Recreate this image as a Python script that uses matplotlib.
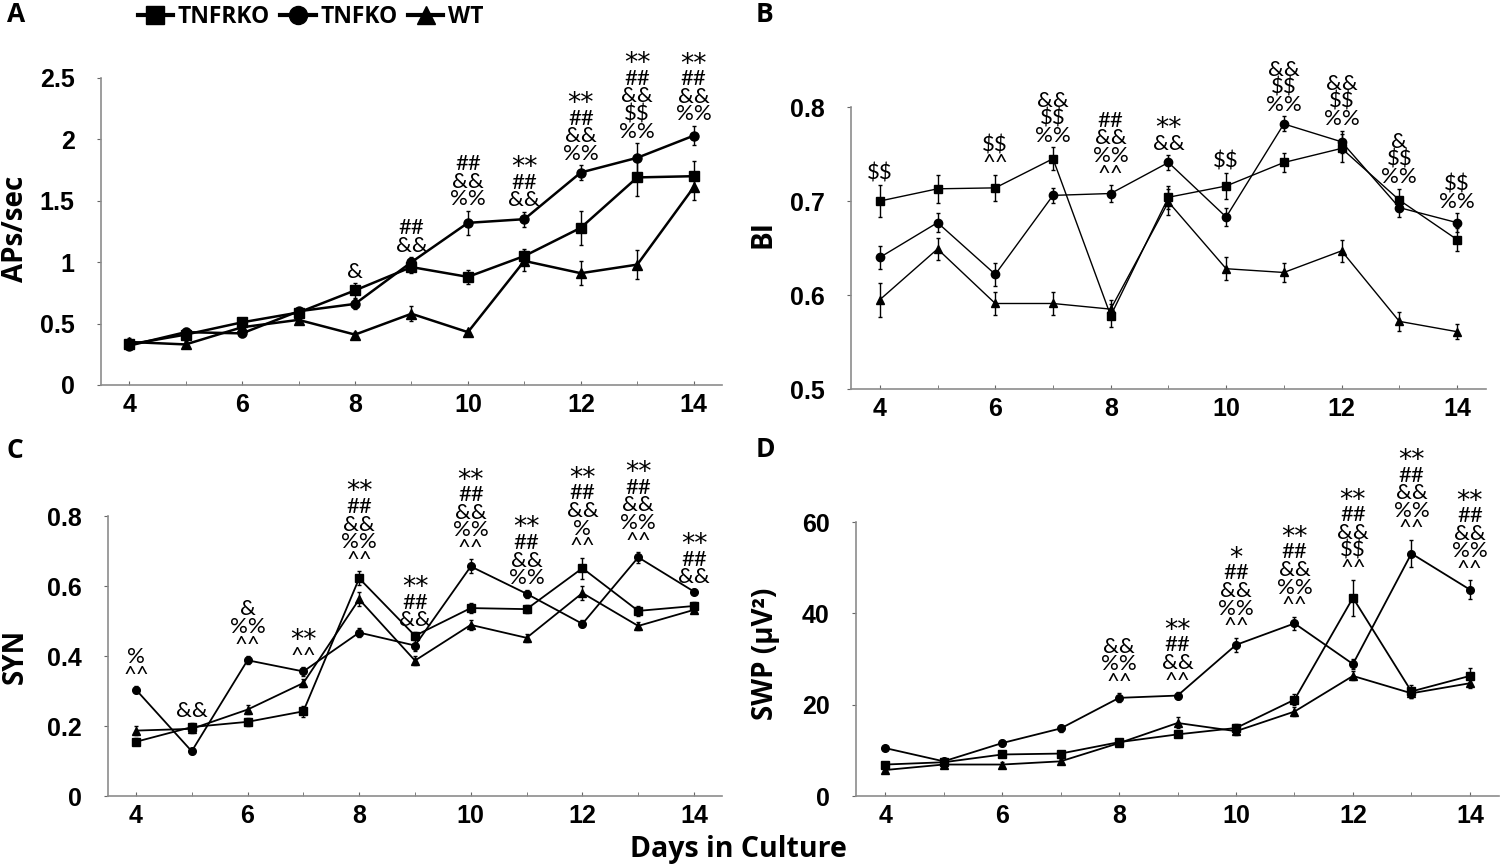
import matplotlib
matplotlib.use("Agg")
import matplotlib.pyplot as plt
from matplotlib.lines import Line2D
from matplotlib.ticker import MultipleLocator, FormatStrFormatter

plt.rcParams['font.family'] = ['Liberation Sans', 'DejaVu Sans']

days = [4, 5, 6, 7, 8, 9, 10, 11, 12, 13, 14]
groups = ['TNFRKO', 'TNFKO', 'WT']

# A - APs/sec
rko_A = [0.33, 0.41, 0.51, 0.59, 0.77, 0.96, 0.88, 1.05, 1.28, 1.69, 1.70]
ko_A = [0.32, 0.43, 0.42, 0.60, 0.66, 1.00, 1.32, 1.35, 1.73, 1.85, 2.03]
wt_A = [0.35, 0.33, 0.47, 0.53, 0.41, 0.58, 0.43, 1.01, 0.91, 0.98, 1.61]
err_rko_A = [0.03, 0.03, 0.03, 0.03, 0.06, 0.05, 0.06, 0.06, 0.14, 0.15, 0.12]
err_ko_A = [0.03, 0.03, 0.03, 0.03, 0.04, 0.04, 0.10, 0.06, 0.06, 0.12, 0.08]
err_wt_A = [0.03, 0.03, 0.03, 0.03, 0.02, 0.06, 0.02, 0.08, 0.10, 0.12, 0.10]
ann_A = ['', '', '', '', '&', '##\n&&', '##\n&&\n%%', '**\n##\n&&',
         '**\n##\n&&\n%%', '**\n##\n&&\n$$\n%%', '**\n##\n&&\n%%']

# B - BI
rko_B = [0.700, 0.713, 0.714, 0.745, 0.578, 0.704, 0.716, 0.741, 0.756, 0.701, 0.659]
ko_B = [0.640, 0.677, 0.622, 0.706, 0.708, 0.741, 0.683, 0.782, 0.763, 0.693, 0.677]
wt_B = [0.595, 0.649, 0.591, 0.591, 0.585, 0.699, 0.628, 0.624, 0.647, 0.572, 0.561]
err_rko_B = [0.017, 0.015, 0.014, 0.012, 0.012, 0.012, 0.014, 0.010, 0.015, 0.012, 0.012]
err_ko_B = [0.012, 0.010, 0.012, 0.008, 0.009, 0.008, 0.010, 0.008, 0.012, 0.010, 0.010]
err_wt_B = [0.018, 0.012, 0.012, 0.012, 0.010, 0.014, 0.012, 0.010, 0.012, 0.010, 0.008]
ann_B = ['$$', '', '$$\n^^', '&&\n$$\n%%', '##\n&&\n%%\n^^', '**\n&&', '$$',
         '&&\n$$\n%%', '&&\n$$\n%%', '&\n$$\n%%', '$$\n%%']

# C - SYN
rko_C = [0.155, 0.197, 0.212, 0.242, 0.622, 0.458, 0.537, 0.534, 0.651, 0.529, 0.543]
ko_C = [0.304, 0.128, 0.388, 0.356, 0.467, 0.430, 0.656, 0.578, 0.492, 0.682, 0.584]
wt_C = [0.187, 0.192, 0.247, 0.323, 0.562, 0.387, 0.489, 0.452, 0.580, 0.486, 0.532]
err_rko_C = [0.010, 0.012, 0.012, 0.015, 0.020, 0.012, 0.015, 0.012, 0.030, 0.015, 0.012]
err_ko_C = [0.010, 0.008, 0.012, 0.012, 0.012, 0.015, 0.020, 0.012, 0.010, 0.015, 0.008]
err_wt_C = [0.012, 0.012, 0.012, 0.012, 0.020, 0.012, 0.015, 0.012, 0.020, 0.012, 0.010]
ann_C = ['%\n^^', '&&', '&\n%%\n^^', '**\n^^', '**\n##\n&&\n%%\n^^', '**\n##\n&&',
         '**\n##\n&&\n%%\n^^', '**\n##\n&&\n%%', '**\n##\n&&\n%\n^^',
         '**\n##\n&&\n%%\n^^', '**\n##\n&&']

# D - SWP
rko_D = [6.9, 7.4, 9.1, 9.3, 11.8, 13.5, 14.9, 21.1, 43.4, 22.9, 26.3]
ko_D = [10.5, 7.6, 11.6, 14.8, 21.5, 22.0, 33.1, 37.8, 28.9, 53.1, 45.2]
wt_D = [5.7, 6.9, 6.9, 7.6, 11.6, 16.0, 14.2, 18.5, 26.3, 22.5, 24.7]
err_rko_D = [0.5, 0.5, 0.5, 0.6, 0.6, 0.6, 0.8, 1.2, 4.0, 1.5, 1.8]
err_ko_D = [0.5, 0.5, 0.6, 0.7, 1.0, 0.8, 1.6, 1.5, 1.0, 3.0, 2.0]
err_wt_D = [0.4, 0.5, 0.5, 0.6, 0.6, 1.2, 0.8, 1.0, 1.0, 1.0, 1.0]
ann_D = ['', '', '', '', '&&\n%%\n^^', '**\n##\n&&\n^^', '*\n##\n&&\n%%\n^^',
         '**\n##\n&&\n%%\n^^', '**\n##\n&&\n$$\n^^', '**\n##\n&&\n%%\n^^',
         '**\n##\n&&\n%%\n^^']

markers = ['s', 'o', '^']
ann_font = 'Lato'
lab_font = 'Open Sans'


def panel(ax, series, errs, ann, ylim, ystep, ylabel, ylab_x, ylab_y, lw, ms):
    for vals, err, mk in zip(series, errs, markers):
        ax.errorbar(days, vals, yerr=err, color='black', marker=mk, markersize=ms,
                    lw=lw, elinewidth=1, capsize=1.5, capthick=1, clip_on=False)
    # significance marks above the highest error bar at each day
    for i, d in enumerate(days):
        if not ann[i]:
            continue
        top = max(s[i] + e[i] for s, e in zip(series, errs))
        lines = ann[i].split('\n')
        stars = lines[0] if lines[0].startswith('*') else ''
        rest = '\n'.join(lines[1:]) if stars else ann[i]
        t = ax.annotate(rest, (d, top), xytext=(0, 1), textcoords='offset points',
                        ha='center', va='bottom', fontsize=16, linespacing=0.85,
                        family=ann_font, annotation_clip=False, parse_math=False)
        if stars:
            # asterisks drawn in a font with large, centred stars
            ax.annotate(stars, xy=(0.5, 1), xycoords=t, xytext=(0, -6),
                        textcoords='offset points', ha='center', va='bottom',
                        fontsize=19, family='DejaVu Sans', annotation_clip=False,
                        parse_math=False)
    ax.set_xlim(3.5, 14.5)
    ax.set_ylim(*ylim)
    ax.xaxis.set_major_locator(MultipleLocator(2))
    ax.xaxis.set_minor_locator(MultipleLocator(1))
    ax.yaxis.set_major_locator(MultipleLocator(ystep))
    ax.yaxis.set_major_formatter(FormatStrFormatter('%g'))
    for s in ['top', 'right']:
        ax.spines[s].set_visible(False)
    for s in ['left', 'bottom']:
        ax.spines[s].set_color('#8c8c8c')
        ax.spines[s].set_linewidth(1.2)
    ax.tick_params(axis='x', which='both', direction='in', length=3, color='#666666',
                   pad=6, labelsize=18)
    ax.tick_params(axis='y', direction='out', length=3, color='#666666', pad=16,
                   labelsize=18)
    for t in ax.get_xticklabels() + ax.get_yticklabels():
        t.set_fontweight('bold')
    ax.set_ylabel(ylabel, fontsize=20, fontweight='bold', family=lab_font)
    ax.yaxis.set_label_coords(ylab_x, ylab_y)


fig = plt.figure(figsize=(15, 8.68), dpi=100)
axA = fig.add_axes([0.0673, 0.5565, 0.414, 0.3537])
axB = fig.add_axes([0.5673, 0.5518, 0.4233, 0.3249])
axC = fig.add_axes([0.0720, 0.0829, 0.4093, 0.3226])
axD = fig.add_axes([0.5707, 0.0829, 0.4287, 0.3157])

panel(axA, [rko_A, ko_A, wt_A], [err_rko_A, err_ko_A, err_wt_A], ann_A,
      (0, 2.5), 0.5, 'APs/sec', -0.114, 0.51, 1.8, 6.5)
panel(axB, [rko_B, ko_B, wt_B], [err_rko_B, err_ko_B, err_wt_B], ann_B,
      (0.5, 0.8), 0.1, 'BI', -0.116, 0.55, 1.0, 6)
panel(axC, [rko_C, ko_C, wt_C], [err_rko_C, err_ko_C, err_wt_C], ann_C,
      (0, 0.8), 0.2, 'SYN', -0.127, 0.5, 1.3, 5.5)
panel(axD, [rko_D, ko_D, wt_D], [err_rko_D, err_ko_D, err_wt_D], ann_D,
      (0, 60), 20, 'SWP (μV²)', -0.118, 0.52, 1.3, 5.5)

for lab, x, y in [('A', 0.011, 0.983), ('B', 0.510, 0.983), ('C', 0.010, 0.481), ('D', 0.510, 0.482)]:
    fig.text(x, y, lab, fontsize=19, fontweight='bold', family=lab_font, va='center', ha='center')

fig.text(0.492, 0.021, 'Days in Culture', fontsize=20.5, fontweight='bold',
         family=lab_font, ha='center', va='center')

handles = [Line2D([], [], color='black', marker=m, markersize=13, lw=3) for m in markers]
fig.legend(handles, groups, loc='center', bbox_to_anchor=(0.207, 0.98), ncol=3,
           frameon=False, handlelength=1.55, handletextpad=0.2, columnspacing=0.45,
           prop={'family': lab_font, 'weight': 'bold', 'size': 16.5})

fig.savefig('out.png', dpi=100)
